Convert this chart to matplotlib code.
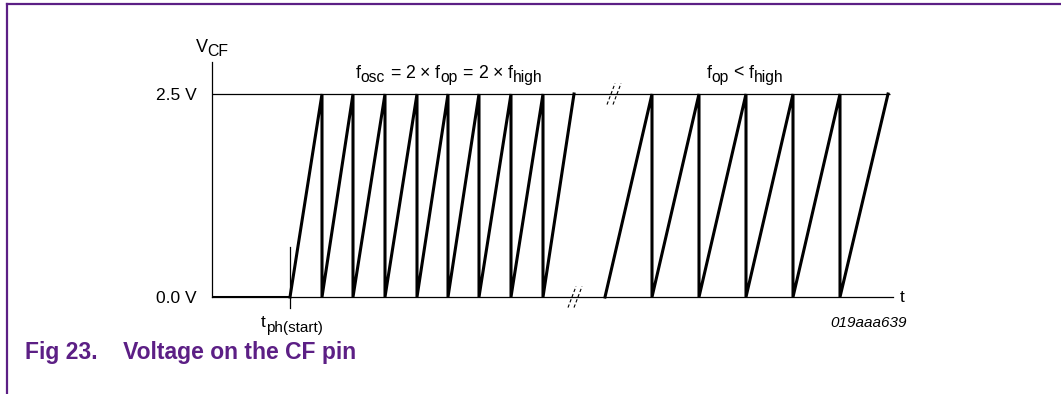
import matplotlib
matplotlib.use("Agg")
import matplotlib.pyplot as plt
from matplotlib.lines import Line2D
from matplotlib.transforms import offset_copy

plt.rcParams['font.family'] = ['Liberation Sans', 'DejaVu Sans']

#---------- datos (tiempo en unidades arbitrarias, tension en V) ----------
v_high = 2.5
t_start = 78
# fase 1: f_osc = 2 x f_op
reset_fase1 = [110, 141, 173, 205, 236, 267, 299, 331]
fin_fase1 = 362
# fase 2: f_op < f_high
inicio_fase2 = 393
reset_fase2 = [440, 487, 534, 581, 628]
fin_fase2 = 676
t_max = 681
corte_abajo = 363
corte_arriba = 402

# etiquetas: (texto, es_subindice); ' ' = espacio
etiqueta_fase1 = [('f', 0), ('osc', 1), (' ', 0), ('=', 0), (' ', 0), ('2', 0), (' ', 0), ('×', 0),
                  (' ', 0), ('f', 0), ('op', 1), (' ', 0), ('=', 0), (' ', 0), ('2', 0), (' ', 0),
                  ('×', 0), (' ', 0), ('f', 0), ('high', 1)]
etiqueta_fase2 = [('f', 0), ('op', 1), (' ', 0), ('<', 0), (' ', 0), ('f', 0), ('high', 1)]
etiqueta_y = [('V', 0), ('CF', 1)]
etiqueta_start = [('t', 0), ('ph(start)', 1)]

purpura = '#5c1f85'

#---------- construir la diente de sierra ----------
def sierra(t0, resets, t_fin):
    xs = [t0]
    ys = [0]
    for r in resets:
        xs += [r, r]
        ys += [v_high, 0]
    xs.append(t_fin)
    ys.append(v_high)
    return xs, ys

x1, y1 = sierra(t_start, reset_fase1, fin_fase1)
x2, y2 = sierra(inicio_fase2, reset_fase2, fin_fase2)

fig = plt.figure(figsize=(10.61, 3.94), dpi=100)
ax = fig.add_axes([212/1061, 97/394, 681/1061, 235/394])
ax.set_xlim(0, t_max)
ax.set_ylim(0, 235/81.2)
renderer = fig.canvas.get_renderer()

def texto_compuesto(x, y, partes, size=12.8, ha='center'):
    objs = []
    for s, sub in partes:
        if s == ' ':
            objs.append((None, sub, size * 0.278 * fig.dpi / 72))
            continue
        t = ax.text(x, y, s, fontsize=size * 0.88 if sub else size, ha='left',
                    va='baseline', clip_on=False)
        objs.append((t, sub, t.get_window_extent(renderer).width))
    total = sum(o[2] for o in objs)
    off = -total / 2 if ha == 'center' else 0
    for t, sub, w in objs:
        if t is not None:
            t.set_transform(offset_copy(ax.transData, fig=fig, x=off,
                                        y=-4.5 if sub else 0, units='dots'))
        off += w

for s in ['top', 'right']:
    ax.spines[s].set_visible(False)
ax.spines['left'].set_linewidth(0.9)
ax.spines['bottom'].set_linewidth(0.9)
ax.set_xticks([])
ax.set_yticks([0, v_high])
ax.set_yticklabels(['0.0 V', '2.5 V'], fontsize=12.5)
ax.tick_params(axis='y', length=0, pad=11)

# linea de referencia 2.5 V
ax.hlines(v_high, 0, fin_fase2 + 2, color='black', lw=0.9)

# tramo plano antes del arranque
ax.plot([0, t_start], [0, 0], color='black', lw=2.2, solid_capstyle='butt')
ax.plot(x1, y1, color='black', lw=2.2, solid_joinstyle='miter', clip_on=False)
ax.plot(x2, y2, color='black', lw=2.2, solid_joinstyle='miter', clip_on=False)

# marca de t_ph(start)
ax.plot([t_start, t_start], [-0.14, 0.62], color='black', lw=0.9, clip_on=False)

# cortes de eje
def corte(xc, yc):
    for dx in (-3, 3):
        ax.plot([xc + dx - 4, xc + dx + 4], [yc - 0.13, yc + 0.13],
                color='black', lw=0.8, ls=(0, (3, 2)), clip_on=False)

corte(corte_abajo, 0)
corte(corte_arriba, v_high)

# textos
texto_compuesto(0, 3.02, etiqueta_y, size=13)
texto_compuesto(237, 2.70, etiqueta_fase1)
texto_compuesto(533, 2.70, etiqueta_fase2)
texto_compuesto(80, -0.37, etiqueta_start, size=12.5)
ax.text(688, 0, 't', ha='left', va='center', fontsize=12.5, clip_on=False)
ax.text(695, -0.32, '019aaa639', ha='right', va='center', fontsize=11, style='italic', clip_on=False)

# marco y titulo
fig.add_artist(Line2D([7/1061, 1], [1 - 4/394, 1 - 4/394], color=purpura, lw=1.6))
fig.add_artist(Line2D([7/1061, 7/1061], [0, 1 - 4/394], color=purpura, lw=1.6))
fig.text(25/1061, 1 - 352/394, 'Fig 23.    Voltage on the CF pin', color=purpura,
         fontsize=16.5, fontweight='bold', ha='left', va='center')

fig.savefig('out.png', dpi=100)
